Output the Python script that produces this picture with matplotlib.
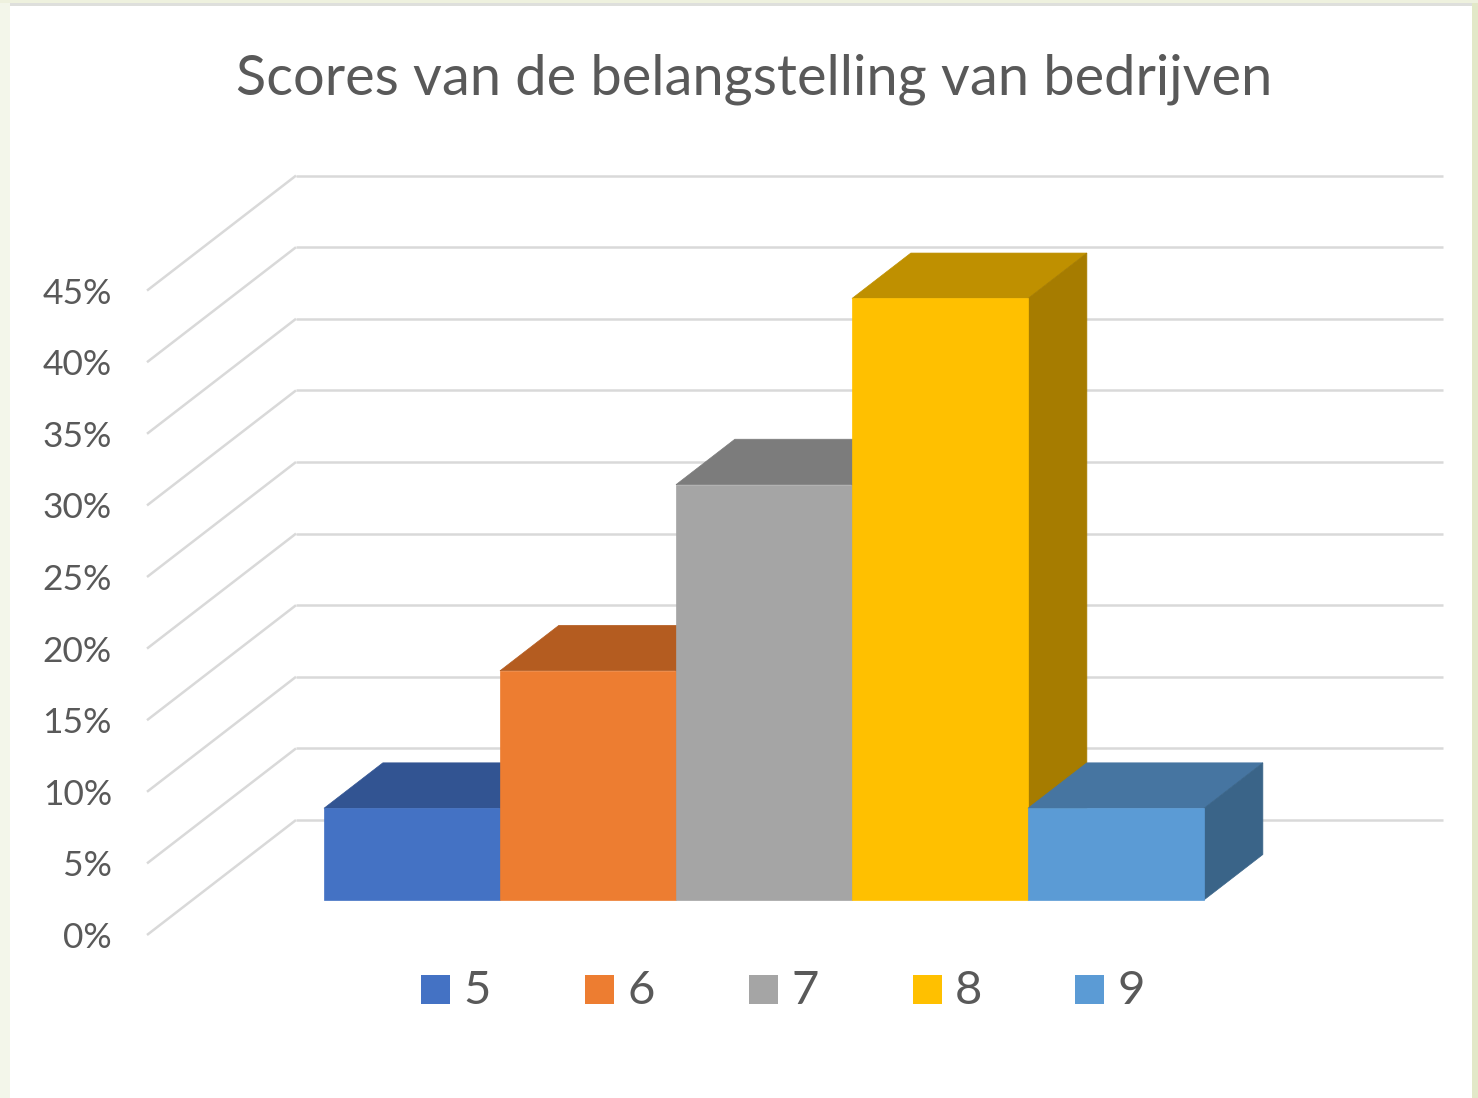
#!/usr/bin/python3
"""Scores chart: a flat 2D axes with an Excel style 3D column look."""

import matplotlib
matplotlib.use("Agg")
import matplotlib.pyplot as plt
from matplotlib.patches import Polygon, Rectangle


TITLE = "Scores van de belangstelling van bedrijven"
CATEGORIES = ["5", "6", "7", "8", "9"]
VALUES = [6.4, 16.0, 29.0, 42.0, 6.4]
TICKS = [0, 5, 10, 15, 20, 25, 30, 35, 40, 45]
FRONT = ["#4472C4", "#ED7D31", "#A5A5A5", "#FFC000", "#5B9BD5"]
TOP = ["#325492", "#B45C20", "#7C7C7C", "#BF9000", "#4675A1"]
SIDE = ["#2C4A80", "#9E5020", "#6C6C6C", "#A67C00", "#3A6488"]
LEGEND_X = [421, 585, 749, 913, 1075]

GREY = "#595959"
GRID = "#D9D9D9"
FONT = "Lato"

# projection, in pixels
X0, Y0 = 147, 935      # front left corner of the floor
DX, DY = 149, -115     # going from the front to the back wall
PX_PER_PCT = 14.32
BAR_LEFT, BAR_W = 324, 176.0
D_FRONT, D_BACK = 0.305, 0.70


def proj(x, value, depth):
    """Pixel position of floor x offset, height in percent, depth 0..1."""
    return (x + depth * DX, Y0 - value * PX_PER_PCT + depth * DY)


def draw_bar(ax, i, value):
    x1 = BAR_LEFT - D_FRONT * DX + i * BAR_W
    x2 = x1 + BAR_W
    top = [proj(x1, value, D_FRONT), proj(x2, value, D_FRONT),
           proj(x2, value, D_BACK), proj(x1, value, D_BACK)]
    side = [proj(x2, 0, D_FRONT), proj(x2, value, D_FRONT),
            proj(x2, value, D_BACK), proj(x2, 0, D_BACK)]
    front = [proj(x1, 0, D_FRONT), proj(x2, 0, D_FRONT),
             proj(x2, value, D_FRONT), proj(x1, value, D_FRONT)]
    ax.add_patch(Polygon(top, fc=TOP[i], ec=TOP[i], lw=0.5, zorder=3))
    ax.add_patch(Polygon(side, fc=SIDE[i], ec=SIDE[i], lw=0.5, zorder=3))
    ax.add_patch(Polygon(front, fc=FRONT[i], ec=FRONT[i], lw=0.5, zorder=3))


fig = plt.figure(figsize=(14.78, 10.98), dpi=100, facecolor="white")
ax = fig.add_axes([0, 0, 1, 1])
ax.set_xlim(0, 1478)
ax.set_ylim(1098, 0)
ax.axis("off")

# slide edges around the pasted chart
ax.add_patch(Rectangle((0, 0), 10, 1098, fc="#F3F6EA", ec="none"))
ax.add_patch(Rectangle((1472, 0), 6, 1098, fc="#E2E8C8", ec="none"))
ax.add_patch(Rectangle((0, 0), 1478, 3, fc="#EEF1DE", ec="none"))
ax.add_patch(Rectangle((10, 3), 1462, 3, fc="#DEDFDC", ec="none"))

for t in TICKS:
    ax.plot(*zip(proj(X0, t, 0), proj(X0, t, 1)), color=GRID, lw=1.8,
            solid_capstyle="butt", zorder=1)
    back = proj(X0, t, 1)
    ax.plot([back[0], 1443], [back[1], back[1]], color=GRID, lw=1.8,
            solid_capstyle="butt", zorder=1)
    ax.text(112, Y0 - t * PX_PER_PCT + 3, str(t) + "%", ha="right", va="center",
            fontsize=25.5, color=GREY, family=FONT)

for i, v in enumerate(VALUES):
    draw_bar(ax, i, v)

ax.text(754, 79, TITLE, ha="center", va="center", fontsize=40.2,
        color=GREY, family=FONT)

for x, cat, col in zip(LEGEND_X, CATEGORIES, FRONT):
    ax.add_patch(Rectangle((x, 975), 29, 29, fc=col, ec="none"))
    ax.text(x + 42, 991, cat, ha="left", va="center", fontsize=34,
            color=GREY, family=FONT)

fig.savefig("out.png", dpi=100)
